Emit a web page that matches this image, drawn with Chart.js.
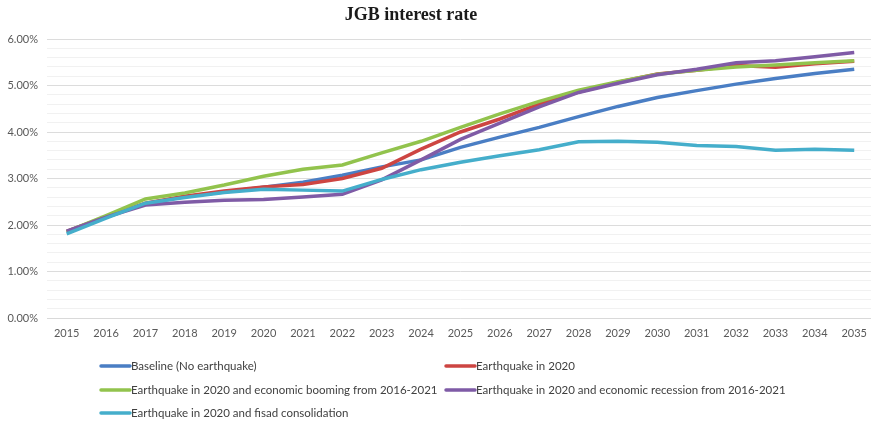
<!DOCTYPE html>
<html>
<head>
<meta charset="utf-8">
<script src="https://cdn.jsdelivr.net/npm/chart.js@4/dist/chart.umd.min.js"></script>
<style>
  html, body { margin: 0; padding: 0; background: #ffffff; overflow: hidden; }
  #wrap { position: relative; width: 876px; height: 422px; }
</style>
</head>
<body>
<div id="wrap"><canvas id="c"></canvas></div>
<script>
// Projection years
const years = ['2015','2016','2017','2018','2019','2020','2021','2022','2023','2024','2025',
               '2026','2027','2028','2029','2030','2031','2032','2033','2034','2035'];

// JGB interest rate by scenario (%)
const baseline = [1.85, 2.17, 2.46, 2.61, 2.71, 2.81, 2.92, 3.07, 3.25, 3.40, 3.67,
                  3.89, 4.10, 4.33, 4.55, 4.74, 4.89, 5.03, 5.15, 5.26, 5.35];
const quake2020 = [1.86, 2.18, 2.47, 2.62, 2.73, 2.82, 2.87, 3.00, 3.22, 3.63, 4.00,
                   4.28, 4.60, 4.86, 5.07, 5.25, 5.33, 5.43, 5.39, 5.47, 5.52];
const quakeBoom = [1.86, 2.20, 2.56, 2.69, 2.86, 3.05, 3.20, 3.29, 3.55, 3.80, 4.10,
                   4.39, 4.66, 4.90, 5.08, 5.24, 5.33, 5.40, 5.44, 5.49, 5.53];
const quakeRecession = [1.87, 2.17, 2.43, 2.49, 2.53, 2.55, 2.60, 2.66, 2.97, 3.40, 3.84,
                        4.19, 4.54, 4.85, 5.05, 5.23, 5.35, 5.49, 5.53, 5.62, 5.71];
const quakeFiscal = [1.81, 2.15, 2.47, 2.59, 2.70, 2.77, 2.75, 2.73, 2.98, 3.19, 3.35,
                     3.49, 3.62, 3.79, 3.80, 3.78, 3.71, 3.69, 3.61, 3.63, 3.61];

const seriesNames = [
  'Baseline (No earthquake)',
  'Earthquake in 2020',
  'Earthquake in 2020 and economic booming from 2016-2021',
  'Earthquake in 2020 and economic recession from 2016-2021',
  'Earthquake in 2020 and fisad consolidation'
];
const seriesColors = ['#4A7EC4', '#CD4542', '#92C34D', '#7F5BA6', '#45AECB'];
const seriesValues = [baseline, quake2020, quakeBoom, quakeRecession, quakeFiscal];

const titleText = 'JGB interest rate';

// Title drawn above the plot
const titlePlugin = {
  id: 'topTitle',
  afterDraw(chart) {
    const ctx = chart.ctx;
    ctx.save();
    ctx.fillStyle = '#1a1a1a';
    ctx.font = 'bold 18px "Liberation Serif", "Times New Roman", serif';
    ctx.textAlign = 'center';
    ctx.textBaseline = 'middle';
    ctx.fillText(titleText, 411, 15);
    ctx.restore();
  }
};

// Two-column legend under the axis
const legendPlugin = {
  id: 'gridLegend',
  afterDraw(chart) {
    const ctx = chart.ctx;
    const cols = [100, 445];
    const rows = [366, 390, 413];
    ctx.save();
    ctx.font = '11.5px Lato, "Open Sans", sans-serif';
    ctx.textBaseline = 'middle';
    ctx.textAlign = 'left';
    chart.data.datasets.forEach((ds, i) => {
      const x = cols[i % 2];
      const y = rows[Math.floor(i / 2)];
      ctx.strokeStyle = ds.borderColor;
      ctx.lineWidth = 3.5;
      ctx.lineCap = 'round';
      ctx.beginPath();
      ctx.moveTo(x + 1, y);
      ctx.lineTo(x + 30, y);
      ctx.stroke();
      ctx.fillStyle = '#404040';
      ctx.fillText(ds.label, x + 31, y + 0.5);
    });
    ctx.restore();
  }
};

const datasets = seriesValues.map((vals, i) => ({
  label: seriesNames[i],
  data: vals,
  borderColor: seriesColors[i],
  backgroundColor: seriesColors[i],
  borderWidth: 3.5,
  pointRadius: 0,
  pointHoverRadius: 0,
  tension: 0,
  fill: false,
  order: 4 - i
}));

new Chart(document.getElementById('c'), {
  type: 'line',
  data: { labels: years, datasets },
  plugins: [titlePlugin, legendPlugin],
  options: {
    responsive: true,
    maintainAspectRatio: false,
    animation: false,
    layout: { autoPadding: false, padding: { top: 39, right: 0, bottom: 74, left: 0 } },
    plugins: {
      legend: { display: false },
      title: { display: false },
      tooltip: { enabled: false }
    },
    scales: {
      x: {
        offset: true,
        grid: { display: false, drawTicks: false },
        border: { display: true, color: '#d9d9d9', width: 1 },
        ticks: {
          color: '#595959',
          font: { family: 'Lato, "Open Sans", sans-serif', size: 11 },
          padding: 9,
          autoSkip: false,
          maxRotation: 0
        },
        afterFit(scale) { scale.height = 30; }
      },
      y: {
        min: 0,
        max: 6,
        grid: {
          drawTicks: false,
          color(ctx) {
            const v = ctx.tick ? ctx.tick.value : 0;
            return Math.abs(v - Math.round(v)) < 1e-6 ? '#dcdcdc' : '#f1f1f1';
          },
          lineWidth: 1
        },
        border: { display: false },
        ticks: {
          stepSize: 0.2,
          autoSkip: false,
          color: '#595959',
          font: { family: 'Lato, "Open Sans", sans-serif', size: 11 },
          padding: 9,
          callback(v) {
            return Math.abs(v - Math.round(v)) < 1e-6 ? v.toFixed(2) + '%' : '';
          }
        },
        afterFit(scale) { scale.width = 47; }
      }
    }
  }
});
</script>
</body>
</html>
